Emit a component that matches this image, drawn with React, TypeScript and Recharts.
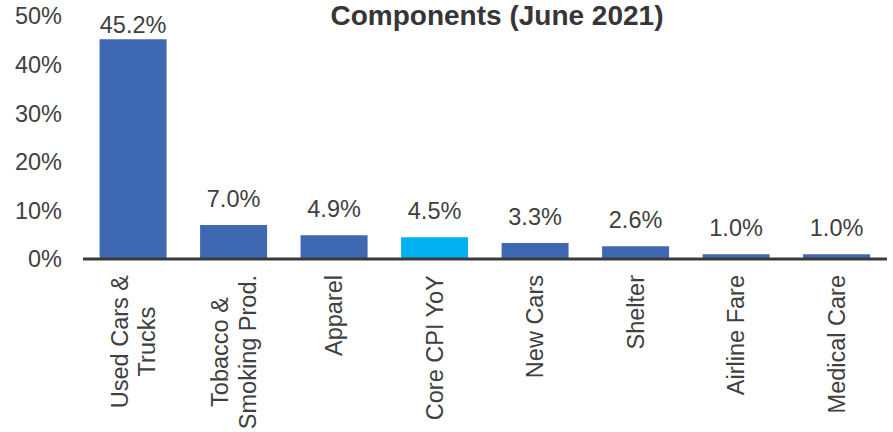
import React from "react";
import { BarChart, Bar, XAxis, YAxis, Cell, LabelList } from "recharts";

const categories: string[] = [
  "Used Cars &\nTrucks",
  "Tobacco &\nSmoking Prod.",
  "Apparel",
  "Core CPI YoY",
  "New Cars",
  "Shelter",
  "Airline Fare",
  "Medical Care",
];
const values: number[] = [45.2, 7.0, 4.9, 4.5, 3.3, 2.6, 1.0, 1.0];
const highlight: boolean[] = [false, false, false, true, false, false, false, false];
const yTicks: number[] = [0, 10, 20, 30, 40, 50];
const title = "Components (June 2021)";

const data = categories.map((c, i) => ({ name: c, value: values[i], hi: highlight[i] }));

const FONT = "'Liberation Sans', Arial, Helvetica, sans-serif";
const TEXT = "#404040";
const FS = 23.5;

let ctx: CanvasRenderingContext2D | null = null;
function measure(s: string): number {
  try {
    if (!ctx) ctx = document.createElement("canvas").getContext("2d");
    if (ctx) {
      ctx.font = `${FS}px 'Liberation Sans'`;
      return ctx.measureText(s).width;
    }
  } catch (e) {}
  return s.length * FS * 0.5;
}

const XTick = (props: any) => {
  const { x, y, payload } = props;
  const lines: string[] = String(payload.value).split("\n");
  const maxW = Math.max(...lines.map(measure));
  const cy = y + maxW / 2;
  const lh = 27.5;
  return (
    <g>
      {lines.map((ln, i) => {
        const off = (i - (lines.length - 1) / 2) * lh;
        return (
          <g key={i} transform={`translate(${x + off}, ${cy}) rotate(-90)`}>
            <text x={0} y={0} textAnchor="middle" dominantBaseline="central" fontSize={FS} fontFamily={FONT} fill={TEXT}>
              {ln}
            </text>
          </g>
        );
      })}
    </g>
  );
};

const ValueLabel = (props: any) => {
  const { x, y, width, value } = props;
  const ty = Math.max(y - 18, 33);
  return (
    <text x={x + width / 2} y={ty} textAnchor="middle" fontSize={FS} fontFamily={FONT} fill={TEXT}>
      {`${Number(value).toFixed(1)}%`}
    </text>
  );
};

export default function App() {
  return (
    <div style={{ position: "absolute", left: 0, top: 0, width: 893, height: 432, background: "#fff" }}>
      <BarChart
        width={893}
        height={432}
        data={data}
        margin={{ top: 16, right: 6, bottom: 0, left: 0 }}
        barCategoryGap="16.5%"
      >
        <text
          x={497}
          y={25}
          textAnchor="middle"
          fontSize={28}
          fontWeight="bold"
          fontFamily={FONT}
          fill="#363636"
        >
          {title}
        </text>
        <XAxis
          dataKey="name"
          interval={0}
          height={173}
          tickSize={0}
          tickMargin={16}
          axisLine={{ stroke: "#3a3a3a", strokeWidth: 3 }}
          tickLine={false}
          tick={<XTick />}
        />
        <YAxis
          width={83}
          domain={[0, 50]}
          ticks={yTicks}
          interval={0}
          axisLine={false}
          tickLine={false}
          tickSize={0}
          tickMargin={21}
          tickFormatter={(v: number) => `${v}%`}
          tick={{ fontSize: FS, fontFamily: FONT, fill: TEXT }}
        />
        <Bar dataKey="value" isAnimationActive={false}>
          {data.map((d, i) => (
            <Cell key={i} fill={d.hi ? "#00B0F0" : "#3E69B2"} />
          ))}
          <LabelList dataKey="value" content={<ValueLabel />} />
        </Bar>
      </BarChart>
    </div>
  );
}
